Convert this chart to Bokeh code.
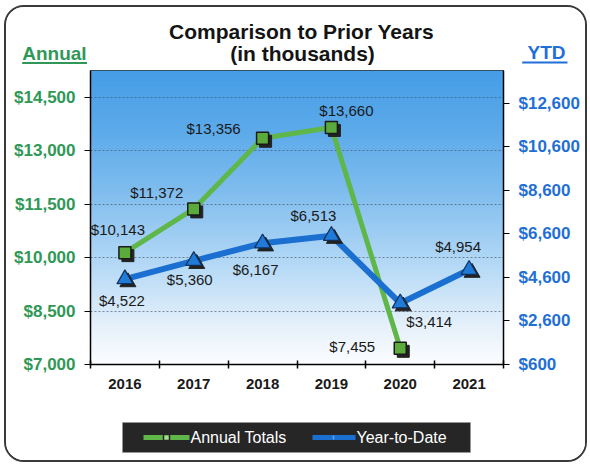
import numpy as np
from bokeh.plotting import figure
from bokeh.layouts import column
from bokeh.models import (Range1d, LinearAxis, FixedTicker, NumeralTickFormatter,
                          ColumnDataSource)
from bokeh.transform import dodge
from bokeh.core.properties import value
from bokeh.embed import file_html
from bokeh.resources import INLINE

# ---------------- data ----------------
years = ["2016", "2017", "2018", "2019", "2020", "2021"]
annual_years = ["2016", "2017", "2018", "2019", "2020"]
annual_totals = [10143, 11372, 13356, 13660, 7455]
ytd_years = ["2016", "2017", "2018", "2019", "2020", "2021"]
ytd_values = [4522, 5360, 6167, 6513, 3414, 4954]
annual_ticks = [7000, 8500, 10000, 11500, 13000, 14500]
ytd_ticks = [600, 2600, 4600, 6600, 8600, 10600, 12600]
title_lines = ["Comparison to Prior Years", "(in thousands)"]
left_title = "Annual"
right_title = "YTD"
legend_labels = ["Annual Totals", "Year-to-Date"]

# label offsets (style, screen px)
annual_dx = [-7, -37, -49, 15, -48]
annual_dy = [-23, -16, -10, -17, -2]
ytd_dx = [-3, -4, -7, -18, 29, -11]
ytd_dy = [21, 19, 26, -20, 18, -23]

FONT = "Liberation Sans"
GREEN_TXT = "#2f9856"
BLUE_TXT = "#1f6fd6"
GREEN_LINE = "#5fb649"
BLUE_LINE = "#1b6fd0"

CW = 579          # content width
TOP_H, MAIN_H, BOT_H = 60, 333, 60
ML, MR, MT, MB = 84, 82, 3, 36


def strip(h):
    fig = figure(width=CW, height=h, output_backend="svg", toolbar_location=None,
                 x_range=Range1d(0, CW), y_range=Range1d(h, 0),
                 x_axis_type=None, y_axis_type=None,
                 min_border=0, min_border_left=0, min_border_right=0,
                 min_border_top=0, min_border_bottom=0)
    fig.frame_align = False
    fig.xgrid.visible = False
    fig.ygrid.visible = False
    fig.outline_line_color = None
    fig.background_fill_color = "white"
    fig.border_fill_color = "white"
    return fig


# ---------------- top strip (titles) ----------------
top = strip(TOP_H)
top.text(x=[295, 296], y=[24, 46], text=title_lines, text_font=value(FONT),
         text_font_size="21px", text_font_style="bold", text_color="#141414",
         text_align="center", text_baseline="middle")
top.text(x=[15.7], y=[46], text=[left_title], text_font=value(FONT),
         text_font_size="19px", text_font_style="bold", text_color=GREEN_TXT,
         text_align="left", text_baseline="middle")
top.segment(x0=[15.7], y0=[55.5], x1=[80.5], y1=[55.5], line_color=GREEN_TXT, line_width=1.8)
top.text(x=[521], y=[44.5], text=[right_title], text_font=value(FONT),
         text_font_size="19px", text_font_style="bold", text_color=BLUE_TXT,
         text_align="left", text_baseline="middle")
top.segment(x0=[515.7], y0=[55], x1=[561], y1=[55], line_color=BLUE_TXT, line_width=1.8)

# ---------------- main chart ----------------
idx = {y: i + 0.5 for i, y in enumerate(years)}

p = figure(width=CW, height=MAIN_H, output_backend="svg", toolbar_location=None,
           x_range=Range1d(0, len(years)), y_range=Range1d(7000, 15260),
           min_border_left=ML, min_border_right=MR, min_border_top=MT,
           min_border_bottom=MB)
p.frame_align = False
p.extra_y_ranges = {"ytd": Range1d(600, 14100)}
p.background_fill_color = "white"
p.border_fill_color = "white"
p.outline_line_color = "#333333"
p.outline_line_width = 1

# gradient background
n = 200
t = np.linspace(0, 1, n)
stops_t = [0.0, 0.12, 0.35, 0.6, 0.8, 1.0]
stops_c = np.array([[252, 253, 255], [232, 242, 251], [178, 216, 246],
                    [126, 188, 238], [92, 170, 234], [70, 158, 231]], dtype=float)
img = np.empty((n, 1), dtype=np.uint32)
view = img.view(dtype=np.uint8).reshape((n, 1, 4))
for k in range(3):
    view[:, 0, k] = np.interp(t, stops_t, stops_c[:, k]).astype(np.uint8)
view[:, 0, 3] = 255
p.image_rgba(image=[img], x=0, y=p.y_range.start, dw=len(years),
             dh=p.y_range.end - p.y_range.start, level="image")

# grid
p.xgrid.visible = False
p.ygrid.ticker = FixedTicker(ticks=annual_ticks)
p.ygrid.grid_line_color = "#3a4a5a"
p.ygrid.grid_line_alpha = 0.6
p.ygrid.grid_line_dash = "2 2"
p.ygrid.grid_line_width = 1

# x axis
xa = p.xaxis[0]
xa.ticker = FixedTicker(ticks=[idx[y] for y in years],
                        minor_ticks=list(range(len(years) + 1)))
xa.major_label_overrides = {idx[y]: y for y in years}
xa.major_tick_line_color = None
xa.major_tick_in = 0
xa.major_tick_out = 0
xa.minor_tick_line_color = "black"
xa.minor_tick_in = 4
xa.minor_tick_out = 4
xa.minor_tick_line_width = 1.5
xa.axis_line_color = "black"
xa.axis_line_width = 1.5
xa.major_label_text_font = FONT
xa.major_label_text_font_size = "15px"
xa.major_label_text_font_style = "bold"
xa.major_label_text_color = "#1a1a1a"
xa.major_label_standoff = 10

# left axis
ya = p.yaxis[0]
ya.ticker = FixedTicker(ticks=annual_ticks)
ya.formatter = NumeralTickFormatter(format="$0,0")
ya.major_tick_in = 0
ya.major_tick_out = 6
ya.minor_tick_line_color = None
ya.axis_line_color = "black"
ya.axis_line_width = 1.5
ya.major_label_text_font = FONT
ya.major_label_text_font_size = "17px"
ya.major_label_text_font_style = "bold"
ya.major_label_text_color = GREEN_TXT
ya.major_label_standoff = 9

# right axis
ra = LinearAxis(y_range_name="ytd", ticker=FixedTicker(ticks=ytd_ticks),
                formatter=NumeralTickFormatter(format="$0,0"))
ra.major_tick_in = 0
ra.major_tick_out = 6
ra.minor_tick_line_color = None
ra.axis_line_color = "black"
ra.axis_line_width = 1.5
ra.major_label_text_font = FONT
ra.major_label_text_font_size = "17px"
ra.major_label_text_font_style = "bold"
ra.major_label_text_color = BLUE_TXT
ra.major_label_standoff = 9
p.add_layout(ra, "right")

# sources
a_src = ColumnDataSource(dict(x=[idx[y] for y in annual_years], y=annual_totals,
                              lab=["${:,}".format(v) for v in annual_totals],
                              dx=annual_dx, dy=annual_dy))
y_src = ColumnDataSource(dict(x=[idx[y] for y in ytd_years], y=ytd_values,
                              lab=["${:,}".format(v) for v in ytd_values],
                              dx=ytd_dx, dy=ytd_dy))

px_x = len(years) / 413.0
px_ya = (p.y_range.end - p.y_range.start) / 294.0
px_yy = (14100 - 600) / 294.0

# lines
p.line("x", "y", source=a_src, line_color=GREEN_LINE, line_width=5)
p.line("x", "y", source=y_src, line_color=BLUE_LINE, line_width=6, y_range_name="ytd")

# marker shadows
p.scatter(dodge("x", 3 * px_x), dodge("y", -3 * px_ya), source=a_src, marker="square",
          size=12, fill_color="#222222", line_color="#222222")
p.scatter(dodge("x", 3 * px_x), dodge("y", -3 * px_yy), source=y_src, marker="triangle",
          size=16, fill_color="#222222", line_color="#222222", y_range_name="ytd")

# markers
p.scatter("x", "y", source=a_src, marker="square", size=12,
          fill_color="#5aaa3c", line_color="#1a1a1a", line_width=1.5)
p.scatter("x", "y", source=y_src, marker="triangle", size=16,
          fill_color="#1f7ad8", line_color="#10305a", line_width=1.2,
          y_range_name="ytd")

# data labels
p.text("x", "y", text="lab", source=a_src, x_offset="dx", y_offset="dy",
       text_font=value(FONT), text_font_size="15px", text_color="#1a1a1a",
       text_align="center", text_baseline="middle")
p.text("x", "y", text="lab", source=y_src, x_offset="dx", y_offset="dy",
       text_font=value(FONT), text_font_size="15px", text_color="#1a1a1a",
       text_align="center", text_baseline="middle", y_range_name="ytd")

# ---------------- bottom strip (legend) ----------------
bot = strip(BOT_H)
bot.quad(left=[116], right=[464], top=[22], bottom=[52], fill_color="#262626",
         line_color="#9a9a9a", line_alpha=0.5)
# legend swatches
bot.segment(x0=[137], y0=[37], x1=[183], y1=[37], line_color=GREEN_LINE, line_width=5)
bot.scatter(x=[160], y=[37], marker="square", size=6, fill_color="#a6dc8e",
            line_color="#262626", line_width=1.5)
bot.segment(x0=[306], y0=[37], x1=[349], y1=[37], line_color=BLUE_LINE, line_width=5)
bot.segment(x0=[327], y0=[35], x1=[327], y1=[39], line_color="#5aa0e8", line_width=1.5)
bot.text(x=[184, 350], y=[37, 37], text=legend_labels, text_font=value(FONT),
         text_font_size="16px", text_color="white", text_align="left",
         text_baseline="middle")

layout = column(top, p, bot, spacing=0,
                styles={"border": "2px solid #3a3a3a", "border-radius": "20px",
                        "overflow": "hidden", "margin-left": "4px",
                        "margin-top": "5px", "background-color": "white"})

open("out.html", "w").write(file_html(layout, INLINE))
